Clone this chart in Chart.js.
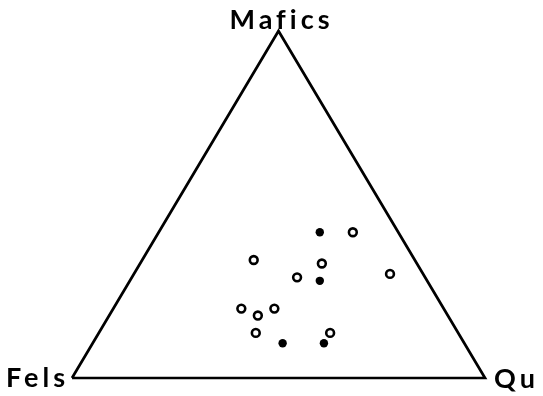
<!DOCTYPE html>
<html>
<head>
<meta charset="utf-8">
<script src="https://cdn.jsdelivr.net/npm/chart.js@4/dist/chart.umd.min.js"></script>
<style>
    html, body { margin: 0; padding: 0; background: #fff; }
    #wrap { width: 543px; height: 396px; position: relative; }
</style>
</head>
<body>
<div id="wrap"><canvas id="chart" width="543" height="396"></canvas></div>
<script>
// ternary plot: percentages of quartz, mafics, feldspar for each sample
const vertexLabels = ['Mafics', 'Fels', 'Qu'];

const openQuartz  = [47, 27, 44, 40, 62, 31, 36, 39, 38, 56];
const openMafics  = [42, 34, 33, 29, 30, 20, 18, 20, 13, 13];
const openFels    = [11, 39, 23, 31,  8, 49, 46, 41, 49, 31];

const filledQuartz = [39, 46, 46, 56];
const filledMafics = [42, 28, 10, 10];
const filledFels   = [19, 26, 44, 34];

function toXY(q, m, f) {
    const total = q + m + f;
    const mm = m / total;
    const qq = q / total;
    return { x: qq + mm / 2, y: mm };
}

const openPoints = openQuartz.map((q, i) => toXY(q, openMafics[i], openFels[i]));
const filledPoints = filledQuartz.map((q, i) => toXY(q, filledMafics[i], filledFels[i]));
const trianglePoints = [toXY(0, 0, 100), toXY(0, 100, 0), toXY(100, 0, 0), toXY(0, 0, 100)];

const vertexLabelPlugin = {
    id: 'vertexLabels',
    afterDraw(chart) {
        const ctx = chart.ctx;
        const xs = chart.scales.x;
        const ys = chart.scales.y;
        ctx.save();
        ctx.fillStyle = '#000';
        ctx.font = 'bold 27px Lato';
        ctx.letterSpacing = '4px';
        ctx.textBaseline = 'alphabetic';

        ctx.textAlign = 'center';
        ctx.fillText(vertexLabels[0], xs.getPixelForValue(0.5) + 3, ys.getPixelForValue(1) - 2);

        ctx.textAlign = 'right';
        ctx.fillText(vertexLabels[1], xs.getPixelForValue(0) - 3, ys.getPixelForValue(0) + 9);

        ctx.textAlign = 'left';
        ctx.fillText(vertexLabels[2], xs.getPixelForValue(1) + 9, ys.getPixelForValue(0) + 10);
        ctx.restore();
    }
};

new Chart(document.getElementById('chart'), {
    type: 'scatter',
    data: {
        datasets: [
            {
                data: trianglePoints,
                showLine: true,
                borderColor: '#000',
                borderWidth: 2.7,
                pointRadius: 0,
                tension: 0,
                clip: false
            },
            {
                data: openPoints,
                pointStyle: 'circle',
                pointRadius: 3.9,
                borderWidth: 2.6,
                borderColor: '#000',
                backgroundColor: '#fff',
                clip: false
            },
            {
                data: filledPoints,
                pointStyle: 'circle',
                pointRadius: 4.2,
                borderWidth: 0,
                backgroundColor: '#000',
                clip: false
            }
        ]
    },
    options: {
        responsive: false,
        animation: false,
        events: [],
        layout: { padding: { left: 72, right: 58, top: 31, bottom: 18 } },
        scales: {
            x: { type: 'linear', min: 0, max: 1, display: false },
            y: { type: 'linear', min: 0, max: 1, display: false }
        },
        plugins: {
            legend: { display: false },
            tooltip: { enabled: false }
        }
    },
    plugins: [vertexLabelPlugin]
});
</script>
</body>
</html>
